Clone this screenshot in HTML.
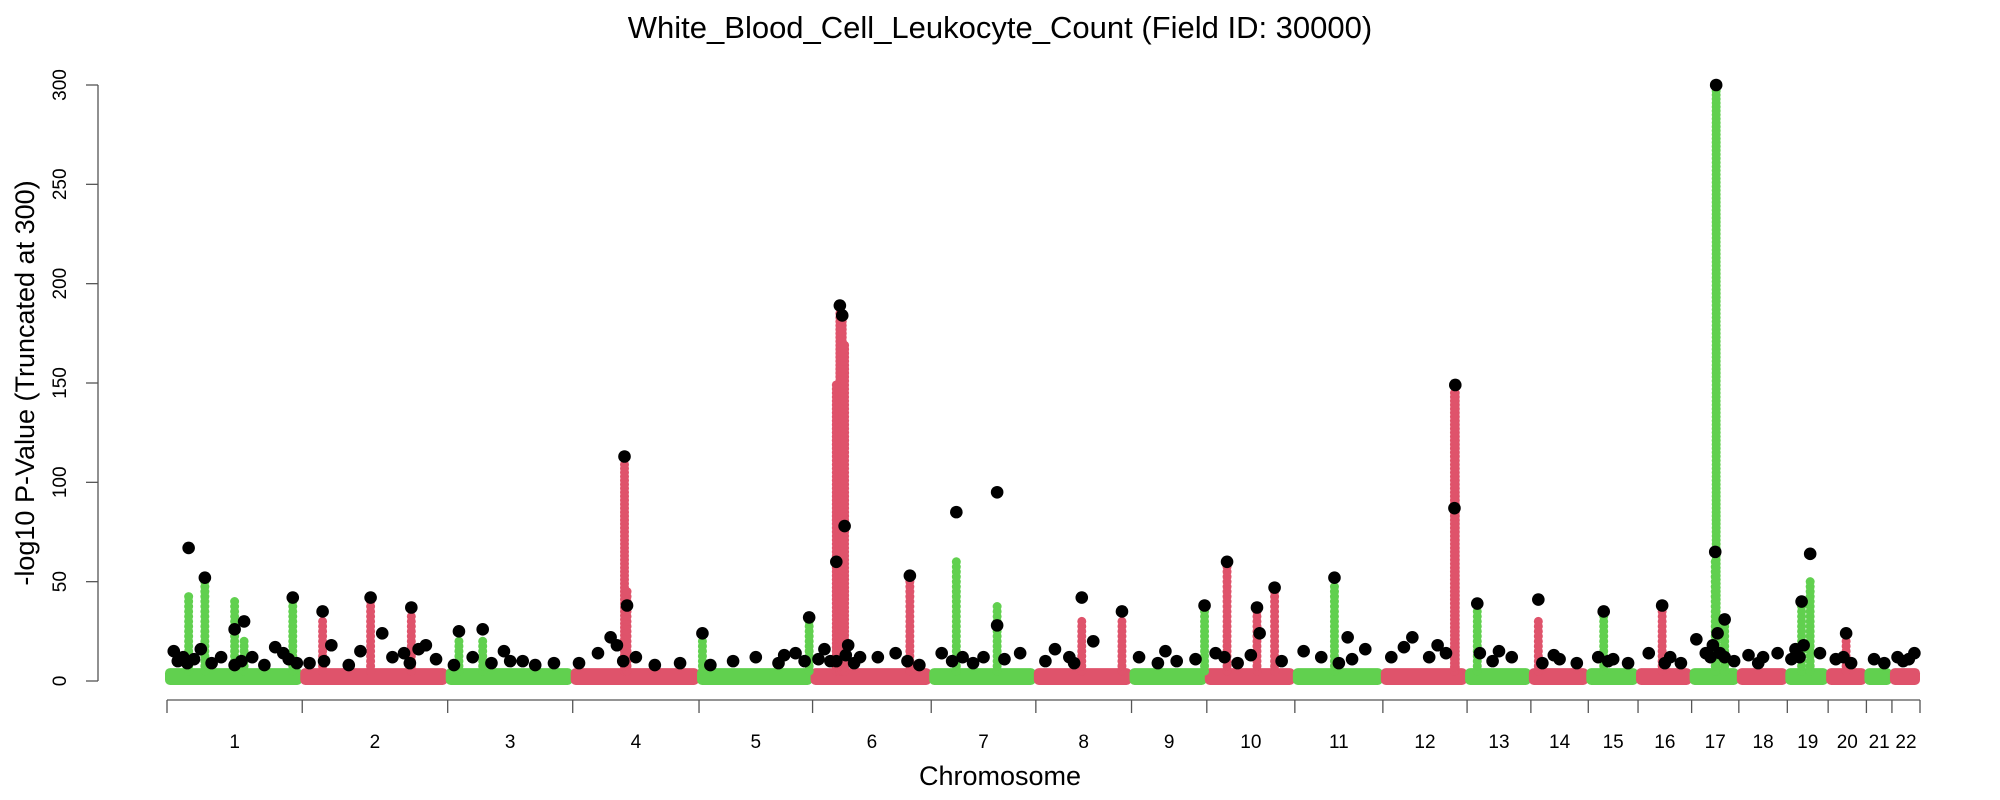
<!DOCTYPE html>
<html><head><meta charset="utf-8"><style>
body{margin:0;background:#fff;}
svg{display:block;font-family:"Liberation Sans",Arial,sans-serif;}
</style></head><body>
<svg id="chart" width="2000" height="800">
<text x="1000" y="38" text-anchor="middle" font-size="31">White_Blood_Cell_Leukocyte_Count (Field ID: 30000)</text>
<text transform="translate(34,383) rotate(-90)" text-anchor="middle" font-size="27">-log10 P-Value (Truncated at 300)</text>
<text x="1000" y="785" text-anchor="middle" font-size="27">Chromosome</text>
<g id="axes"></g><g id="band"></g><g id="cols"></g><g id="leads"></g>
</svg>
<script>
const chromosomes=["1","2","3","4","5","6","7","8","9","10","11","12","13","14","15","16","17","18","19","20","21","22"];
const chrSize=[106,114,98,99,89,93,82,75,59,69,69,66,50,45,39,42,37,38,32,30,20,22];
const yTicks=[0,50,100,150,200,250,300];
// peaks: chromosome index, fractional position, coloured column top, lead value
const peakChr=[0,0,0,0,0,1,1,1,2,2,3,3,4,4,5,5,5,5,5,6,6,6,7,7,8,9,9,9,10,11,11,12,13,14,15,16,16,16,18,18,19];
const peakPos=[0.16,0.28,0.57,0.93,0.5,0.14,0.47,0.75,0.09,0.28,0.41,0.43,0.03,0.97,0.2,0.23,0.25,0.27,0.82,0.24,0.63,0.63,0.48,0.9,0.97,0.23,0.77,0.57,0.45,0.86,0.85,0.16,0.13,0.31,0.45,0.52,0.5,0.7,0.35,0.56,0.47];
const peakCol=[43,50,20,40,40,30,40,33,22,22,110,45,22,30,150,185,185,170,50,62,0,38,30,30,35,58,45,35,48,145,145,35,30,35,35,300,60,30,40,50,20];
const peakLead=[67,52,30,42,26,35,42,37,25,26,113,38,24,32,60,189,184,78,53,85,95,28,42,35,38,60,47,37,52,149,87,39,41,35,38,300,65,31,40,64,24];
// minor lead hits per chromosome: [position fraction, value]
const minorHits=[
 [[0.05,15],[0.08,10],[0.12,12],[0.15,9],[0.2,11],[0.25,16],[0.33,9],[0.4,12],[0.5,8],[0.55,10],[0.63,12],[0.72,8],[0.8,17],[0.86,14],[0.9,11],[0.96,9]],
 [[0.05,9],[0.15,10],[0.2,18],[0.32,8],[0.4,15],[0.55,24],[0.62,12],[0.7,14],[0.74,9],[0.8,16],[0.85,18],[0.92,11]],
 [[0.05,8],[0.2,12],[0.35,9],[0.45,15],[0.5,10],[0.6,10],[0.7,8],[0.85,9]],
 [[0.05,9],[0.2,14],[0.3,22],[0.35,18],[0.4,10],[0.5,12],[0.65,8],[0.85,9]],
 [[0.1,8],[0.3,10],[0.5,12],[0.7,9],[0.75,13],[0.85,14],[0.93,10]],
 [[0.05,11],[0.1,16],[0.15,10],[0.2,10],[0.28,13],[0.3,18],[0.35,9],[0.4,12],[0.55,12],[0.7,14],[0.8,10],[0.9,8]],
 [[0.1,14],[0.2,10],[0.3,12],[0.4,9],[0.5,12],[0.7,11],[0.85,14]],
 [[0.1,10],[0.2,16],[0.35,12],[0.4,9],[0.6,20]],
 [[0.1,12],[0.35,9],[0.45,15],[0.6,10],[0.85,11]],
 [[0.1,14],[0.2,12],[0.35,9],[0.5,13],[0.6,24],[0.85,10]],
 [[0.1,15],[0.3,12],[0.5,9],[0.6,22],[0.65,11],[0.8,16]],
 [[0.1,12],[0.25,17],[0.35,22],[0.55,12],[0.65,18],[0.75,14]],
 [[0.2,14],[0.4,10],[0.5,15],[0.7,12]],
 [[0.2,9],[0.4,13],[0.5,11],[0.8,9]],
 [[0.2,12],[0.4,10],[0.5,11],[0.8,9]],
 [[0.2,14],[0.5,9],[0.6,12],[0.8,9]],
 [[0.1,21],[0.3,14],[0.4,12],[0.45,18],[0.55,24],[0.6,14],[0.7,12],[0.9,10]],
 [[0.2,13],[0.4,9],[0.5,12],[0.8,14]],
 [[0.1,11],[0.2,16],[0.3,12],[0.4,18],[0.8,14]],
 [[0.2,11],[0.4,12],[0.6,9]],
 [[0.3,11],[0.7,9]],
 [[0.2,12],[0.4,10],[0.6,11],[0.8,14]]
];
const NS="http://www.w3.org/2000/svg";
const X0=167,X1=1920,Y0=681,Y300=85;
const total=chrSize.reduce((a,b)=>a+b,0);
const starts=[];let acc=0;chrSize.forEach(s=>{starts.push(acc);acc+=s;});
function xs(c,f){return X0+(starts[c]+f*chrSize[c])/total*(X1-X0);}
function ys(v){return Y0-v/300*(Y0-Y300);}
function mk(tag,attrs,parent){const e=document.createElementNS(NS,tag);for(const k in attrs)e.setAttribute(k,attrs[k]);parent.appendChild(e);return e;}
const axes=document.getElementById('axes'),band=document.getElementById('band'),cols=document.getElementById('cols'),leads=document.getElementById('leads');
const GREEN="#61D04F",RED="#DF536B";
let l=mk('line',{x1:98,x2:98,y1:ys(300),y2:ys(0),stroke:'#555','stroke-width':1.3},axes);


yTicks.forEach(t=>{
 const tk=mk('line',{x1:86,x2:98,y1:ys(t),y2:ys(t),stroke:'#555','stroke-width':1.3},axes);
 
 
 const tx=mk('text',{transform:`translate(66,${ys(t)}) rotate(-90)`,'text-anchor':'middle','font-size':19},axes);
 tx.textContent=t;
 
 
});
l=mk('line',{x1:X0,x2:X1,y1:700,y2:700,stroke:'#555','stroke-width':1.3},axes);


for(let c=0;c<=chromosomes.length;c++){
 const xx=c<chromosomes.length?xs(c,0):X1;
 const tk=mk('line',{x1:xx,x2:xx,y1:700,y2:713,stroke:'#555','stroke-width':1.3},axes);
 
 
}
chromosomes.forEach((n,c)=>{
 const tx=mk('text',{x:xs(c,0.5),y:748,'text-anchor':'middle','font-size':19},axes);
 tx.textContent=n;
 
 
});
chromosomes.forEach((n,c)=>{
 const col=c%2?RED:GREEN;
 const g=mk('rect',{x:xs(c,0)-2,y:ys(6.5),width:xs(c,1)-xs(c,0)+2,height:ys(0)-ys(6.5)+4,fill:col,rx:5},band);
 
 
});
peakChr.forEach((c,i)=>{
 const col=c%2?RED:GREEN;
 const x=xs(c,peakPos[i]);
 for(let v=5;v<=peakCol[i];v+=(peakCol[i]>100?2:2.5)){
  const d=mk('circle',{cx:x,cy:ys(v),r:4.5,fill:col},cols);
  
  
 }
});
minorHits.forEach((hits,c)=>{
 hits.forEach(h=>{
  const d=mk('circle',{cx:xs(c,h[0]),cy:ys(h[1]),r:6.3,fill:'#000'},leads);
  
  
 });
});
peakChr.forEach((c,i)=>{
 const d=mk('circle',{cx:xs(c,peakPos[i]),cy:ys(peakLead[i]),r:6.3,fill:'#000'},leads);
 
 
});
</script>
</body></html>
